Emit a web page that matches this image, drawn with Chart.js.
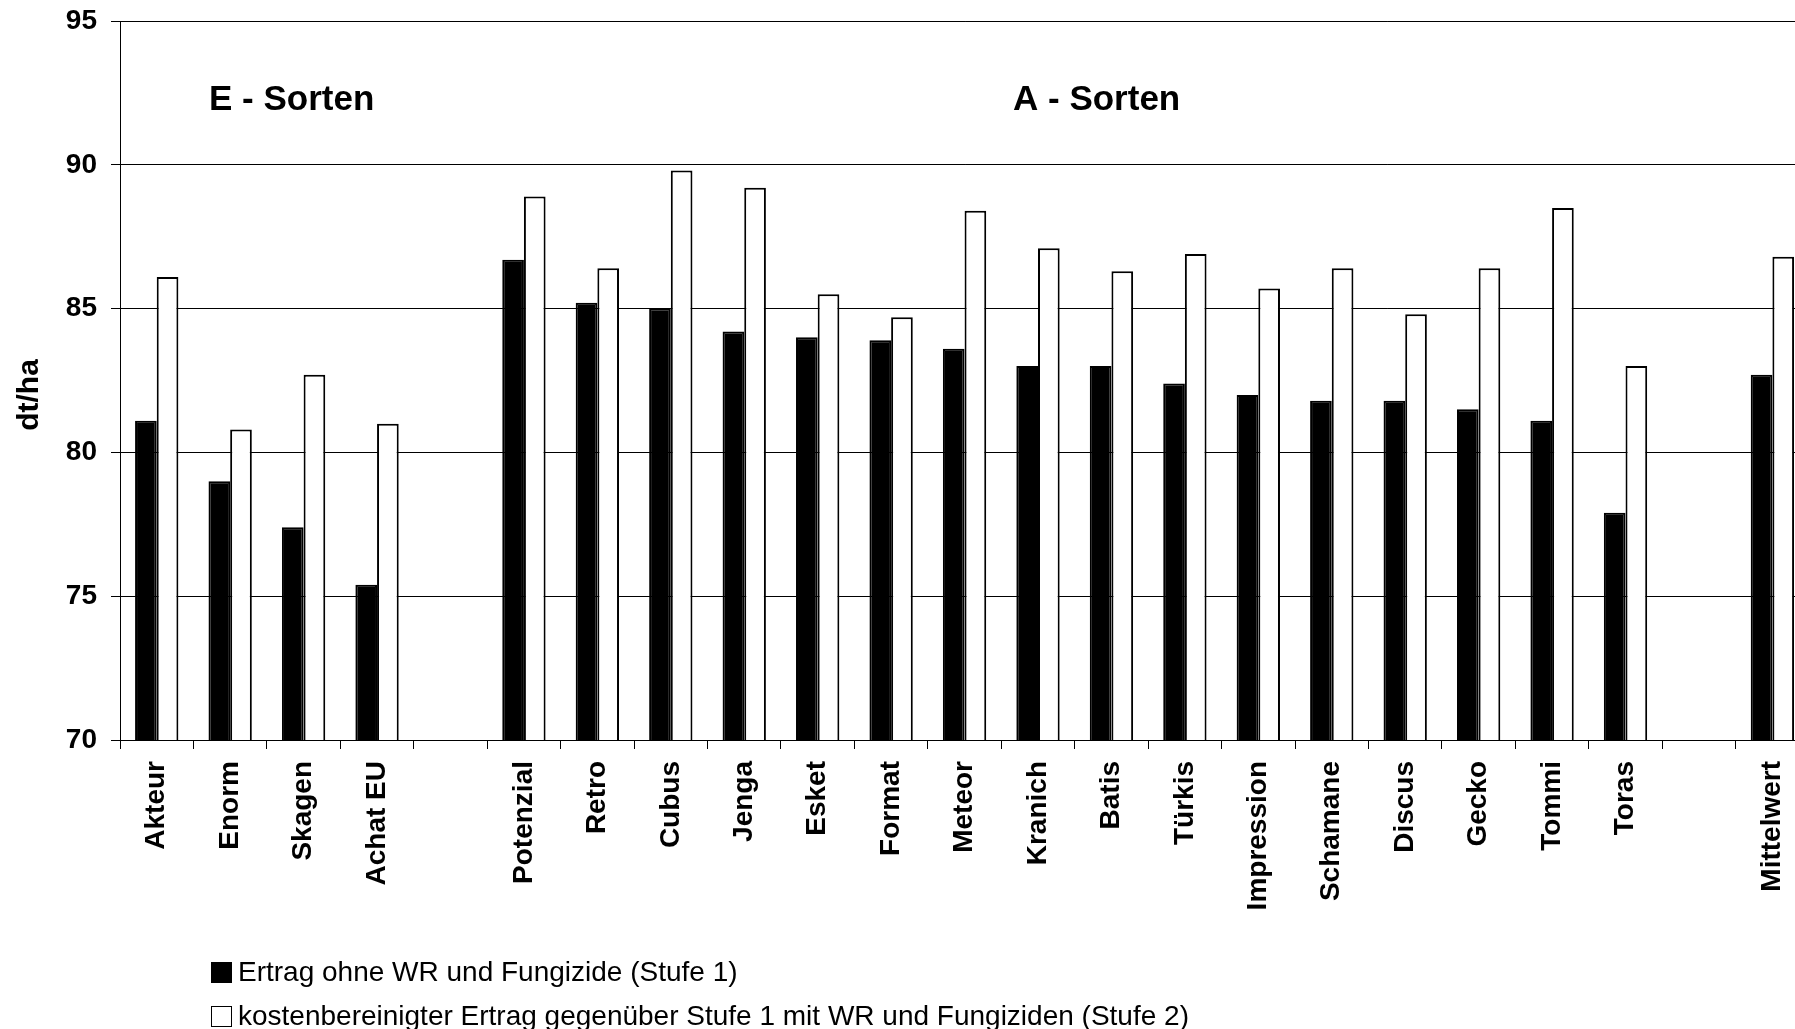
<!DOCTYPE html>
<html>
<head>
<meta charset="utf-8">
<script src="https://cdn.jsdelivr.net/npm/chart.js@4.4.0/dist/chart.umd.min.js"></script>
<style>
  html, body { margin: 0; padding: 0; background: #fff; overflow: hidden; }
  #wrap { width: 1795px; height: 1029px; overflow: hidden; }
  canvas { display: block; }
</style>
</head>
<body>
<div id="wrap"><canvas id="ertragChart" width="1818" height="1029"></canvas></div>
<script>
const sorten = ['Akteur', 'Enorm', 'Skagen', 'Achat EU', '',
  'Potenzial', 'Retro', 'Cubus', 'Jenga', 'Esket', 'Format', 'Meteor', 'Kranich', 'Batis',
  'Türkis', 'Impression', 'Schamane', 'Discus', 'Gecko', 'Tommi', 'Toras', '', 'Mittelwert']

const stufe1 = [81.1, 79.0, 77.4, 75.4, null,
  86.7, 85.2, 85.0, 84.2, 84.0, 83.9, 83.6, 83.0, 83.0,
  82.4, 82.0, 81.8, 81.8, 81.5, 81.1, 77.9, null, 82.7]

const stufe2 = [86.1, 80.8, 82.7, 81.0, null,
  88.9, 86.4, 89.8, 89.2, 85.5, 84.7, 88.4, 87.1, 86.3,
  86.9, 85.7, 86.4, 84.8, 86.4, 88.5, 83.0, null, 86.8]

const yTicks = [70, 75, 80, 85, 90, 95]
const gruppen = ['E - Sorten', 'A - Sorten']
const einheit = 'dt/ha'

const fontFam = "'Liberation Sans', Arial, sans-serif"

// Achsentitel, Gruppenbeschriftung und Legende (zweizeilig, links unten)
const extras = {
  id: 'extras',
  afterDraw(chart) {
    const ctx = chart.ctx
    const area = chart.chartArea
    const y = chart.scales.y
    ctx.save()
    ctx.fillStyle = '#000'
    ctx.textBaseline = 'middle'

    ctx.save()
    ctx.font = 'bold 30px ' + fontFam
    ctx.textAlign = 'center'
    ctx.translate(30, 395)
    ctx.rotate(-Math.PI / 2)
    ctx.fillText(einheit, 0, 0)
    ctx.restore()

    ctx.textAlign = 'left'
    ctx.font = 'bold 35px ' + fontFam
    ctx.fillText(gruppen[0], area.left + 89, y.getPixelForValue(92.25))
    ctx.fillText(gruppen[1], area.left + 893, y.getPixelForValue(92.25))

    ctx.font = '28px ' + fontFam
    chart.data.datasets.forEach((ds, i) => {
      const cy = 972 + i * 44
      ctx.fillStyle = ds.backgroundColor
      ctx.fillRect(211, cy - 10, 21, 21)
      ctx.strokeStyle = '#000'
      ctx.lineWidth = 1
      ctx.strokeRect(211.5, cy - 9.5, 20, 20)
      ctx.fillStyle = '#000'
      ctx.fillText(ds.label, 238, cy + 1)
    })
    ctx.restore()
  }
}

new Chart(document.getElementById('ertragChart').getContext('2d'), {
  type: 'bar',
  data: {
    labels: sorten,
    datasets: [
      {
        label: 'Ertrag ohne WR und Fungizide (Stufe 1)',
        data: stufe1,
        backgroundColor: '#000000',
        borderColor: '#000000',
        borderWidth: 2
      },
      {
        label: 'kostenbereinigter Ertrag gegenüber Stufe 1 mit WR und Fungiziden (Stufe 2)',
        data: stufe2,
        backgroundColor: '#ffffff',
        borderColor: '#000000',
        borderWidth: 2
      }
    ]
  },
  options: {
    responsive: false,
    animation: false,
    devicePixelRatio: 1,
    layout: { padding: { top: 21, left: 0, right: 0, bottom: 0 } },
    categoryPercentage: 0.59,
    barPercentage: 1.0,
    plugins: {
      legend: { display: false },
      tooltip: { enabled: false }
    },
    scales: {
      x: {
        afterFit: (scale) => { scale.height = 289 },
        grid: {
          display: true,
          drawOnChartArea: false,
          drawTicks: true,
          tickLength: 9,
          color: '#000',
          offset: true
        },
        border: { display: true, color: '#000', width: 1 },
        ticks: {
          autoSkip: false,
          maxRotation: 90,
          minRotation: 90,
          padding: 12,
          color: '#000',
          font: { family: fontFam, size: 28, weight: 'bold' }
        }
      },
      y: {
        min: 70,
        max: 95,
        afterFit: (scale) => {
          scale.width = 120
          scale.paddingTop = 0
          scale.paddingBottom = 0
        },
        afterBuildTicks: (scale) => { scale.ticks = yTicks.map(v => ({ value: v })) },
        grid: {
          color: '#000',
          lineWidth: 1,
          tickLength: 9
        },
        border: { display: true, color: '#000', width: 1 },
        ticks: {
          padding: 14,
          color: '#000',
          font: { family: fontFam, size: 28, weight: 'bold' }
        },
        title: { display: false }
      }
    }
  },
  plugins: [extras]
})
</script>
</body>
</html>
